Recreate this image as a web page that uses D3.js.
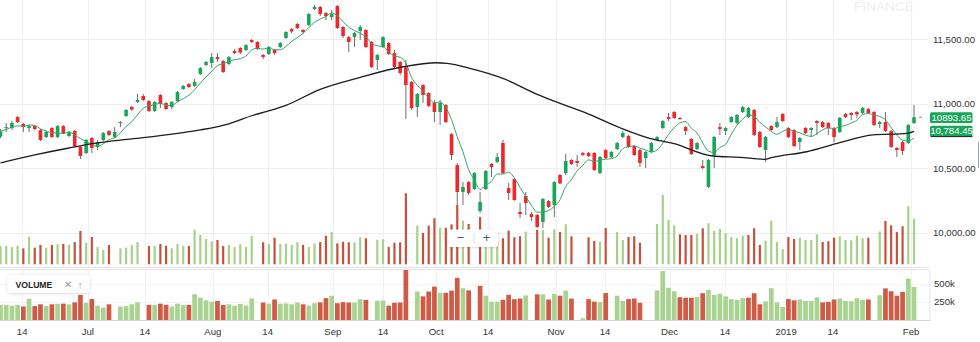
<!DOCTYPE html>
<html>
<head>
<meta charset="utf-8">
<script src="https://cdn.jsdelivr.net/npm/d3@7"></script>
<style>
  html, body { margin: 0; padding: 0; background: #fff; }
  svg { display: block; font-family: "Liberation Sans", Arial, Helvetica, sans-serif; }
</style>
</head>
<body>
<svg id="chart" width="980" height="342"></svg>
<script>
// Daily sessions, mid June 2018 to 1 Feb 2019 (index = session number)
const opens = [
  10744,10810,10810,10895,10841,10810,10825,10794,10740,10810,
  10740,10825,10748,10787,10663,10616,10732,10663,10717,10787,
  10740,10849,10903,10973,11012,11058,11019,10942,11066,11004,
  10973,11019,11112,11151,11136,11229,11298,11314,11360,11329,
  11306,11407,11430,11415,11492,11477,11376,11384,11415,11438,
  11508,11577,11616,11570,11608,11733,11748,11701,11670,11756,
  11593,11515,11515,11562,11570,11477,11337,11438,11469,11391,
  11322,11283,11167,10973,11143,11081,11004,10934,10988,10763,
  10523,10314,10391,10337,10167,10337,10531,10546,10694,10345,
  10415,10159,10283,10143,10136,10081,10244,10213,10446,10461,
  10562,10554,10616,10616,10616,10461,10639,10585,10647,10740,
  10748,10670,10639,10577,10624,10717,10810,10895,10934,10888,
  10817,10725,10647,10515,10353,10601,10817,10787,10856,10849,
  10934,10895,10950,10779,10639,10825,10817,10919,10810,10794,
  10701,10810,10794,10864,10856,10849,10810,10779,10919,10926,
  10934,10926,10957,10934,10841,10856,10787,10655,10701,10694,
  10849
];
const highs = [
  10802,10849,10864,10903,10849,10833,10833,10802,10787,10817,
  10833,10833,10787,10794,10670,10725,10740,10717,10779,10794,
  10817,10864,10957,10981,11074,11074,11027,11019,11074,11012,
  11019,11097,11143,11159,11190,11283,11329,11391,11391,11337,
  11368,11422,11438,11461,11500,11484,11384,11446,11422,11477,
  11562,11585,11624,11577,11701,11764,11756,11709,11725,11764,
  11601,11523,11554,11608,11577,11484,11384,11523,11477,11415,
  11329,11337,11174,11081,11151,11089,11027,11027,10996,10771,
  10539,10391,10399,10469,10314,10484,10539,10616,10717,10384,
  10422,10229,10314,10159,10143,10267,10252,10399,10453,10608,
  10570,10601,10624,10624,10624,10593,10647,10632,10701,10787,
  10756,10678,10647,10632,10701,10748,10872,10926,10942,10895,
  10825,10732,10701,10562,10570,10748,10849,10817,10903,10919,
  10981,10973,10957,10787,10748,10833,10895,10926,10817,10802,
  10740,10817,10817,10872,10864,10856,10817,10895,10926,10934,
  10942,10973,10965,10942,10864,10934,10794,10663,10709,10841,
  10988
];
const lows = [
  10732,10779,10794,10849,10779,10779,10794,10709,10732,10732,
  10732,10763,10740,10663,10570,10608,10616,10639,10709,10748,
  10732,10817,10895,10942,11004,11019,10934,10934,10965,10950,
  10957,11012,11105,11120,11128,11221,11291,11275,11322,11236,
  11298,11384,11384,11407,11469,11415,11345,11376,11376,11430,
  11500,11546,11577,11539,11601,11725,11678,11647,11647,11577,
  11508,11399,11438,11492,11430,11275,11260,11430,11376,11275,
  11221,10880,10950,10895,11004,10973,10856,10833,10849,10562,
  10213,10213,10291,10329,10151,10329,10430,10539,10453,10252,
  10244,10112,10136,10089,10035,10035,10190,10120,10376,10446,
  10523,10508,10593,10585,10477,10453,10570,10577,10639,10732,
  10655,10593,10508,10500,10616,10709,10802,10864,10880,10872,
  10756,10601,10639,10492,10345,10500,10756,10756,10849,10841,
  10926,10888,10748,10655,10546,10787,10810,10856,10732,10663,
  10639,10763,10740,10756,10810,10756,10701,10771,10888,10872,
  10888,10919,10919,10825,10810,10779,10655,10585,10601,10686,
  10841
];
const closes = [
  10783,10817,10849,10856,10817,10825,10802,10717,10779,10740,
  10825,10771,10779,10670,10593,10717,10655,10701,10771,10756,
  10779,10856,10950,10953,11027,11027,10942,11012,10996,10957,
  11012,11089,11136,11128,11167,11275,11322,11360,11345,11244,
  11360,11391,11395,11453,11477,11422,11360,11438,11391,11469,
  11554,11558,11585,11554,11694,11748,11694,11678,11694,11585,
  11523,11477,11546,11593,11438,11283,11376,11515,11384,11283,
  11236,11143,10965,11074,11066,10981,10934,11004,10856,10601,
  10314,10353,10306,10461,10236,10477,10508,10585,10461,10306,
  10252,10143,10229,10120,10043,10260,10198,10391,10380,10554,
  10531,10539,10601,10593,10484,10585,10577,10624,10694,10771,
  10663,10601,10539,10624,10694,10740,10864,10880,10888,10880,
  10787,10608,10694,10500,10562,10740,10802,10810,10895,10911,
  10973,10965,10756,10663,10740,10794,10856,10864,10740,10670,
  10732,10771,10810,10849,10817,10810,10740,10888,10895,10911,
  10915,10965,10926,10833,10856,10787,10663,10639,10632,10833,
  10893.65
];
// Volume in thousands of shares; null where no volume was reported
const volumes = [
  209,209,199,211,187,294,193,218,193,218,
  224,227,218,245,347,239,291,199,172,218,
  null,187,193,218,245,null,209,209,227,211,
  187,227,209,209,359,310,273,252,264,209,
  218,199,224,200,300,null,243,227,285,227,
  230,218,243,218,199,233,245,303,337,233,
  248,243,243,289,280,null,267,270,199,239,
  243,694,null,396,329,396,464,377,377,408,
  586,442,412,null,475,338,254,254,280,350,
  289,298,341,null,356,356,285,362,337,408,
  298,null,25,289,255,248,374,null,337,264,
  291,298,239,null,null,411,680,448,399,316,
  310,310,319,372,418,347,365,328,291,280,
  303,310,372,218,258,442,245,181,291,273,
  285,264,264,316,245,252,285,298,264,261,
  303,280,285,null,344,439,399,337,390,575,
  460
];
// Long moving average, read at selected sessions
const slowMaSessions = [0, 6, 12, 17, 23, 29, 35, 40, 44, 50, 56, 63, 70.5, 76.4, 78.2, 82.2, 88, 94, 98, 102.7, 108.5, 113.7, 117.8, 124.8, 129.5, 133.9, 135, 141.2, 147, 152.8, 158.8, 160];
const slowMaValues   = [10539, 10601, 10655, 10694, 10725, 10756, 10795, 10843, 10905, 10985, 11110, 11203, 11285, 11316, 11311, 11273, 11195, 11071, 11001, 10924, 10812, 10730, 10691, 10593, 10583, 10567, 10580, 10626, 10696, 10756, 10769, 10784.45];

const tickLabels   = ["14", "Jul", "14", "Aug", "14", "Sep", "14", "Oct", "14", "Nov", "14", "Dec", "14", "2019", "14", "Feb"];
const tickSessions = [3.8, 15.3, 25.3, 37.2, 46.8, 58.2, 67, 76.3, 85.4, 97.3, 105.9, 117.2, 126.9, 137.6, 145.8, 159.5];
const priceTicks  = [10000, 10500, 11000, 11500];
const volumeTicks = [250, 500];

// ---------------------------------------------------------------
const svg = d3.select("#chart");
const n = closes.length;
const PLOT_RIGHT = 928;
const MAIN_BOTTOM = 267;
const SUB_TOP = 269.5, SUB_BOTTOM = 320.5, SUB_RIGHT = 930;

const x = d3.scaleLinear().domain([0, n - 1]).range([0.5, 914]);
const y = d3.scaleLinear().domain([10000, 11500]).range([232.5, 39]);
const yVolMain = d3.scaleLinear().domain([40, 694]).range([264.3, 193.3]);
const yVolSub = d3.scaleLinear().domain([0, 500]).range([320, 284]);

const GREEN = "#17a65a", RED = "#f0262d", WICK = "#6e6e6e";
const VOL_UP = "#a6d18b", VOL_DOWN = "#c4513c";
const SUB_UP = "#a9d390", SUB_DOWN = "#cf5a45";

const defs = svg.append("defs");
defs.append("clipPath").attr("id", "mainClip")
  .append("rect").attr("x", 0).attr("y", 0).attr("width", PLOT_RIGHT).attr("height", MAIN_BOTTOM);
const shadow = defs.append("filter").attr("id", "shadow")
  .attr("x", "-20%").attr("y", "-40%").attr("width", "140%").attr("height", "180%");
shadow.append("feDropShadow").attr("dx", 0).attr("dy", 0.5)
  .attr("stdDeviation", 1.4).attr("flood-color", "#000").attr("flood-opacity", 0.18);

// watermark
svg.append("text").attr("x", 884).attr("y", 10.5).attr("text-anchor", "middle")
  .attr("font-size", 13).attr("letter-spacing", 0.4).attr("fill", "#eeeeee")
  .text("FINANCE");

// grid
const grid = svg.append("g").attr("shape-rendering", "crispEdges");
grid.selectAll("line.h").data(priceTicks).join("line").attr("class", "h")
  .attr("x1", 0).attr("x2", PLOT_RIGHT)
  .attr("y1", d => Math.round(y(d)) + 0.5).attr("y2", d => Math.round(y(d)) + 0.5)
  .attr("stroke", "#efefef");
grid.selectAll("line.v").data(tickSessions).join("line").attr("class", "v")
  .attr("x1", d => Math.round(x(d)) + 0.5).attr("x2", d => Math.round(x(d)) + 0.5)
  .attr("y1", 0).attr("y2", MAIN_BOTTOM)
  .attr("stroke", "#efefef");
grid.selectAll("line.vs").data(tickSessions).join("line").attr("class", "vs")
  .attr("x1", d => Math.round(x(d)) + 0.5).attr("x2", d => Math.round(x(d)) + 0.5)
  .attr("y1", SUB_TOP).attr("y2", SUB_BOTTOM)
  .attr("stroke", "#f1f1f1");
grid.selectAll("line.hs").data(volumeTicks).join("line").attr("class", "hs")
  .attr("x1", 0).attr("x2", SUB_RIGHT)
  .attr("y1", d => Math.round(yVolSub(d)) + 0.5).attr("y2", d => Math.round(yVolSub(d)) + 0.5)
  .attr("stroke", "#f3f3f3");

const sessions = d3.range(n);
const isUpVol = i => i === 0 ? closes[0] >= opens[0] : closes[i] >= closes[i - 1];
const withVol = sessions.filter(i => volumes[i] != null);

const main = svg.append("g").attr("clip-path", "url(#mainClip)");

// volume overlay inside the price panel
main.append("g").selectAll("rect").data(withVol).join("rect")
  .attr("x", i => x(i) - 1.1).attr("width", 2.2)
  .attr("y", i => yVolMain(volumes[i]))
  .attr("height", i => yVolMain.range()[0] - yVolMain(volumes[i]))
  .attr("fill", i => isUpVol(i) ? VOL_UP : VOL_DOWN);

// candles
const candles = main.append("g").selectAll("g").data(sessions).join("g");
candles.append("line")
  .attr("x1", i => x(i)).attr("x2", i => x(i))
  .attr("y1", i => y(highs[i])).attr("y2", i => y(lows[i]))
  .attr("stroke", WICK).attr("stroke-width", 1);
candles.append("rect")
  .attr("x", i => x(i) - 1.8).attr("width", 3.6)
  .attr("y", i => y(Math.max(opens[i], closes[i])))
  .attr("height", i => Math.max(1, Math.abs(y(opens[i]) - y(closes[i]))))
  .attr("fill", i => closes[i] >= opens[i] ? GREEN : RED);

// short moving average (5 sessions) of closes
const fastMa = sessions.map(i => d3.mean(closes.slice(Math.max(0, i - 4), i + 1)));
main.append("path")
  .attr("d", d3.line().x((d, i) => x(i)).y(d => y(d)).curve(d3.curveMonotoneX)(fastMa))
  .attr("fill", "none").attr("stroke", "#35a46c").attr("stroke-width", 1);

// long moving average
main.append("path")
  .attr("d", d3.line().x(d => x(d[0])).y(d => y(d[1])).curve(d3.curveMonotoneX)(
    slowMaSessions.map((s, i) => [s, slowMaValues[i]])))
  .attr("fill", "none").attr("stroke", "#1c1c1c").attr("stroke-width", 1.3);

// last-close marker
const lastI = n - 1;
svg.append("line")
  .attr("x1", x(lastI) + 5).attr("x2", x(lastI) + 8)
  .attr("y1", y(closes[lastI])).attr("y2", y(closes[lastI]))
  .attr("stroke", "#888").attr("stroke-width", 1);

// panel separator
svg.append("line").attr("x1", 0).attr("x2", SUB_RIGHT)
  .attr("y1", MAIN_BOTTOM + 0.5).attr("y2", MAIN_BOTTOM + 0.5)
  .attr("stroke", "#e2e2e2").attr("shape-rendering", "crispEdges");

// price axis labels
svg.append("g").selectAll("text").data(priceTicks).join("text")
  .attr("x", 933).attr("y", d => y(d) + 3.5)
  .attr("font-size", 9.6).attr("fill", "#333")
  .text(d => d3.format(",.2f")(d));

// value tags: last close and last long-average value
const tags = [
  { v: closes[lastI], text: d3.format(".2f")(closes[lastI]), edge: null },
  { v: slowMaValues[slowMaValues.length - 1], text: d3.format(",.2f")(slowMaValues[slowMaValues.length - 1]), edge: "#1c1c1c" }
];
const tagG = svg.append("g").selectAll("g").data(tags).join("g")
  .attr("transform", (d, i) => `translate(930, ${i === 0 ? y(d.v) - 5 : y(d.v) - 5.5})`);
tagG.append("rect").attr("width", 42.5).attr("height", 10.8).attr("rx", 1.5)
  .attr("fill", GREEN);
tagG.filter(d => d.edge).append("line")
  .attr("x1", 0.5).attr("x2", 42.5).attr("y1", 10.8).attr("y2", 10.8)
  .attr("stroke", d => d.edge).attr("stroke-width", 1);
tagG.append("text").attr("x", 21.5).attr("y", 8.4).attr("text-anchor", "middle")
  .attr("font-size", 9.6).attr("fill", "#fff").text(d => d.text);

// zoom buttons
const zb = svg.append("g").attr("transform", "translate(448,229.5)");
zb.append("rect").attr("width", 50).attr("height", 17.5).attr("rx", 2)
  .attr("fill", "#fff").attr("filter", "url(#shadow)");
zb.append("line").attr("x1", 26).attr("x2", 26).attr("y1", 3.5).attr("y2", 14)
  .attr("stroke", "#ddd");
zb.append("text").attr("x", 12.5).attr("y", 12.7).attr("text-anchor", "middle")
  .attr("font-size", 13).attr("fill", "#555").text("\u2212");
zb.append("text").attr("x", 38.5).attr("y", 12.7).attr("text-anchor", "middle")
  .attr("font-size", 13).attr("fill", "#555").text("+");

// volume sub-panel
svg.append("path")
  .attr("d", `M0,${SUB_TOP} H${SUB_RIGHT - 3} Q${SUB_RIGHT},${SUB_TOP} ${SUB_RIGHT},${SUB_TOP + 3} V${SUB_BOTTOM}`)
  .attr("fill", "none").attr("stroke", "#e3e3e3");
svg.append("g").selectAll("rect").data(withVol).join("rect")
  .attr("x", i => x(i) - 2.35).attr("width", 4.7)
  .attr("y", i => yVolSub(volumes[i]))
  .attr("height", i => yVolSub(0) - yVolSub(volumes[i]))
  .attr("fill", i => isUpVol(i) ? SUB_UP : SUB_DOWN);
svg.append("line").attr("x1", 0).attr("x2", SUB_RIGHT)
  .attr("y1", SUB_BOTTOM).attr("y2", SUB_BOTTOM)
  .attr("stroke", "#d6d6d6").attr("shape-rendering", "crispEdges");

svg.append("g").selectAll("text").data(volumeTicks).join("text")
  .attr("x", 934).attr("y", d => yVolSub(d) + 3.3)
  .attr("font-size", 9.6).attr("fill", "#333")
  .text(d => d + "k");

// legend chip
const lg = svg.append("g").attr("transform", "translate(7.5,275)");
lg.append("rect").attr("width", 82).attr("height", 18).attr("rx", 2.5)
  .attr("fill", "#fff").attr("filter", "url(#shadow)");
lg.append("text").attr("x", 8).attr("y", 12.5).attr("font-size", 8.6)
  .attr("font-weight", 600).attr("fill", "#222").text("VOLUME");
lg.append("text").attr("x", 56).attr("y", 13).attr("font-size", 10)
  .attr("fill", "#9a9a9a").text("\u2715");
lg.append("text").attr("x", 70).attr("y", 13.5).attr("font-size", 10.5)
  .attr("fill", "#9a9a9a").text("\u2191");

// time axis labels
svg.append("g").selectAll("text").data(tickSessions).join("text")
  .attr("x", d => x(d)).attr("y", 334.5).attr("text-anchor", "middle")
  .attr("font-size", 9.6).attr("fill", "#333")
  .text((d, i) => tickLabels[i]);

// scroll indicator at the right edge
svg.append("line").attr("x1", 978.5).attr("x2", 978.5).attr("y1", 142).attr("y2", 168)
  .attr("stroke", "#9aa0c8").attr("stroke-width", 1);
</script>
</body>
</html>
